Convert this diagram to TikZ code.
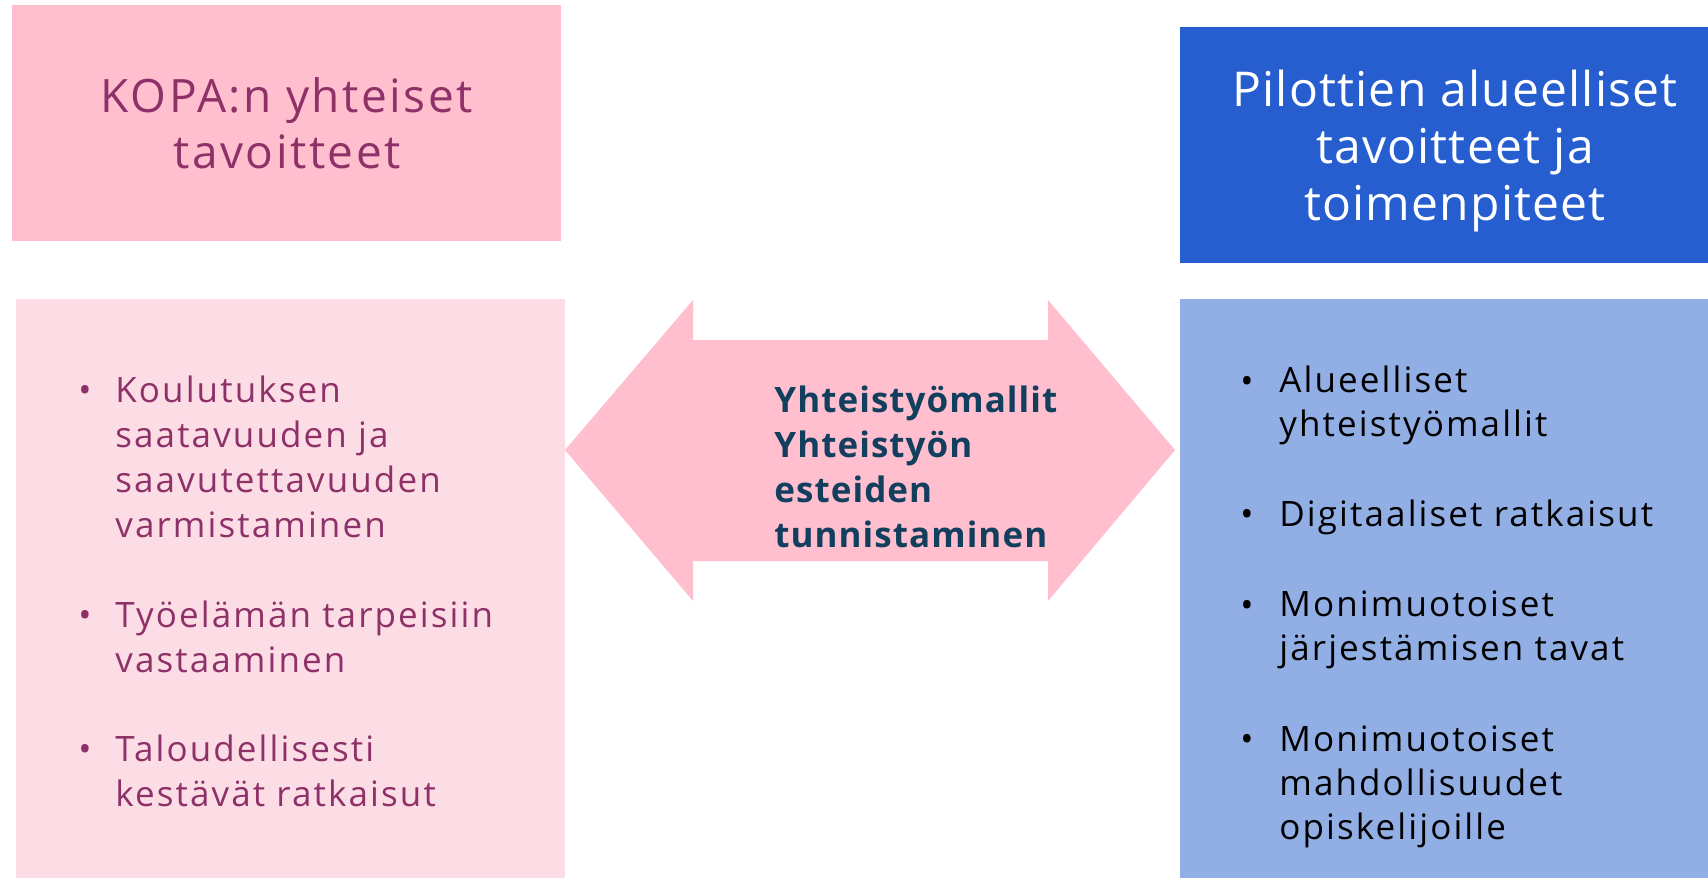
\documentclass[tikz,border=0pt]{standalone}
\usepackage{fontspec}
\setmainfont{Open Sans}
\newfontfamily\itemfam[LetterSpace=6]{Open Sans}
\newfontfamily\ltitlefam[LetterSpace=5.5]{Open Sans}
\newfontfamily\rtitlefam[LetterSpace=2.5]{Open Sans}
\newfontfamily\boldfam[LetterSpace=3]{Open Sans}
\definecolor{pinkA}{HTML}{FFBFCE}
\definecolor{pinkB}{HTML}{FDDDE5}
\definecolor{blueA}{HTML}{265ED0}
\definecolor{blueB}{HTML}{91AEE5}
\definecolor{plum}{HTML}{8E3168}
\definecolor{navy}{HTML}{123F5E}
\begin{document}
\begin{tikzpicture}[x=0.5pt,y=-0.5pt,
  ltitle/.style={inner sep=0pt,align=center,text=plum,font=\ltitlefam\fontsize{23}{28}\selectfont},
  rtitle/.style={inner sep=0pt,align=center,text=white,font=\rtitlefam\fontsize{24}{28.5}\selectfont},
  litem/.style={inner sep=0pt,anchor=base west,align=left,text=plum,font=\itemfam\fontsize{17.5}{22.5}\selectfont},
  ritem/.style={inner sep=0pt,anchor=base west,align=left,text=black,font=\itemfam\fontsize{17.5}{22}\selectfont},
  lbul/.style={inner sep=0pt,anchor=base,text=plum,font=\fontsize{17.5}{22.5}\selectfont},
  rbul/.style={inner sep=0pt,anchor=base,text=black,font=\fontsize{17.5}{22}\selectfont},
  mid/.style={inner sep=0pt,anchor=base west,align=left,text=navy,font=\boldfam\bfseries\fontsize{17.5}{22.5}\selectfont}]
\useasboundingbox (0,0) rectangle (1708,878);
\fill[white] (0,0) rectangle (1708,878);
% boxes
\fill[pinkA] (12,5) rectangle (561,241);
\fill[blueA] (1180,27) rectangle (1708,263);
\fill[pinkB] (16,299) rectangle (565,878);
\fill[blueB] (1180,299) rectangle (1708,878);
% arrow
\fill[pinkA] (565,450) -- (693,300) -- (693,340) -- (1048,340) -- (1048,300) -- (1175,450)
  -- (1048,601) -- (1048,561) -- (693,561) -- (693,601) -- cycle;
% titles (anchor base = baseline of last line)
\node[ltitle,anchor=base] (t1) at (287,168) {KOPA:n yhteiset\\tavoitteet};
\node[rtitle,anchor=base] (t2) at (1455,220) {Pilottien alueelliset\\tavoitteet ja\\toimenpiteet};
% middle text
\node[mid] (m) at (774,547) {Yhteistyömallit\\Yhteistyön\\esteiden\\tunnistaminen};
% left items
\node[lbul] (lb1) at (85,402) {•};
\node[litem] (l1) at (115,537) {Koulutuksen\\saatavuuden ja\\saavutettavuuden\\varmistaminen};
\node[lbul] (lb2) at (85,627) {•};
\node[litem] (l2) at (115,672) {Työelämän tarpeisiin\\vastaaminen};
\node[lbul] (lb3) at (85,761) {•};
\node[litem] (l3) at (115,806) {Taloudellisesti\\kestävät ratkaisut};
% right items
\node[rbul] (rb1) at (1247,393) {•};
\node[ritem] (r1) at (1279,436) {Alueelliset\\yhteistyömallit};
\node[rbul] (rb2) at (1247,526) {•};
\node[ritem] (r2) at (1279,526) {Digitaaliset ratkaisut};
\node[rbul] (rb3) at (1247,617) {•};
\node[ritem] (r3) at (1279,660) {Monimuotoiset\\järjestämisen tavat};
\node[rbul] (rb4) at (1247,751) {•};
\node[ritem] (r4) at (1279,839) {Monimuotoiset\\mahdollisuudet\\opiskelijoille};
\end{tikzpicture}
\end{document}
